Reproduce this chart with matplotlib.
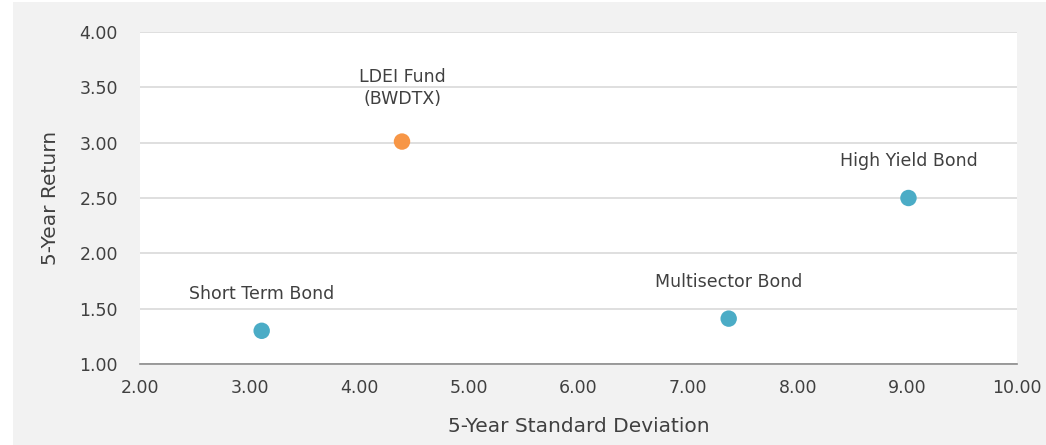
import matplotlib
matplotlib.use("Agg")
import matplotlib.pyplot as plt
from matplotlib.patches import Rectangle

names = ["Short Term Bond", "LDEI Fund\n(BWDTX)", "Multisector Bond", "High Yield Bond"]
std_dev = [3.11, 4.39, 7.37, 9.01]
returns = [1.30, 3.01, 1.41, 2.50]
colors = ["#4bacc6", "#f79646", "#4bacc6", "#4bacc6"]
x_ticks = [2, 3, 4, 5, 6, 7, 8, 9, 10]
y_ticks = [1.0, 1.5, 2.0, 2.5, 3.0, 3.5, 4.0]

plt.rcParams['font.family'] = ['DejaVu Sans']
txt = "#404040"

W, H = 1046, 445
fig = plt.figure(figsize=(W / 100, H / 100), dpi=100)
fig.patch.set_facecolor("white")
bg = Rectangle((13 / W, 0), 1 - 13 / W, 1 - 2 / H, transform=fig.transFigure,
               facecolor="#f2f2f2", edgecolor="none", zorder=-10)
fig.add_artist(bg)

L, R, T, B = 140, 1017, 32, 364
ax = fig.add_axes([L / W, 1 - B / H, (R - L) / W, (B - T) / H])
ax.set_zorder(1)
ax.set_facecolor("white")
ax.set_xlim(2, 10)
ax.set_ylim(1, 4)
ax.set_xticks(x_ticks)
ax.set_yticks(y_ticks)
ax.set_xticklabels([f"{v:.2f}" for v in x_ticks])
ax.set_yticklabels([f"{v:.2f}" for v in y_ticks])
ax.tick_params(length=0, labelsize=12.5, colors=txt)
ax.tick_params(axis='x', pad=11)
ax.tick_params(axis='y', pad=16)
ax.grid(axis='y', color="#d9d9d9", linewidth=1.2)
ax.set_axisbelow(True)
for s in ["top", "right", "left"]:
    ax.spines[s].set_visible(False)
ax.spines["bottom"].set_color("#8c8c8c")
ax.spines["bottom"].set_linewidth(1.2)

ax.scatter(std_dev, returns, s=140, c=colors, zorder=3, linewidths=0)

for n, x, y in zip(names, std_dev, returns):
    extra = 4 if "\n" in n else 0
    ax.annotate(n, (x, y), xytext=(0, 20 + extra), textcoords="offset points",
                ha="center", va="bottom", fontsize=12.5, color=txt, linespacing=1.3)

ax.set_xlabel("5-Year Standard Deviation", fontsize=14.5, color=txt, va="center")
ax.set_ylabel("5-Year Return", fontsize=14.5, color=txt, va="center")
ax.xaxis.set_label_coords(((L + R) / 2 - L) / (R - L), (B - 427) / (B - T))
ax.yaxis.set_label_coords((50 - L) / (R - L), 0.5)

fig.savefig("out.png", dpi=100, facecolor=fig.get_facecolor())
